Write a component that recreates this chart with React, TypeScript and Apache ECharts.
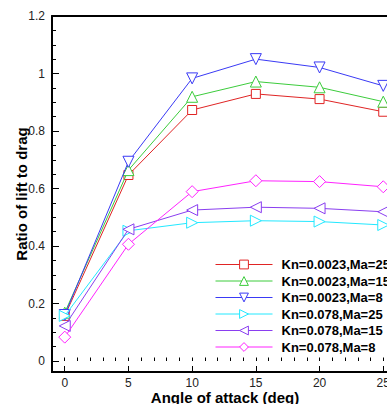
import React, { useEffect, useRef } from 'react';
import * as echarts from 'echarts';

const angles = [0, 5, 10, 15, 20, 25];
const xMajorTicks = [0, 5, 10, 15, 20, 25];
const seriesNames = [
  'Kn=0.0023,Ma=25',
  'Kn=0.0023,Ma=15',
  'Kn=0.0023,Ma=8',
  'Kn=0.078,Ma=25',
  'Kn=0.078,Ma=15',
  'Kn=0.078,Ma=8',
];
const kn0023Ma25 = [0.157, 0.647, 0.873, 0.929, 0.911, 0.867];
const kn0023Ma15 = [0.168, 0.664, 0.919, 0.972, 0.952, 0.902];
const kn0023Ma8 = [0.16, 0.693, 0.983, 1.05, 1.021, 0.957];
const kn078Ma25 = [0.157, 0.453, 0.481, 0.488, 0.485, 0.473];
const kn078Ma15 = [0.122, 0.458, 0.525, 0.535, 0.531, 0.519];
const kn078Ma8 = [0.083, 0.406, 0.589, 0.627, 0.624, 0.606];
const allValues = [kn0023Ma25, kn0023Ma15, kn0023Ma8, kn078Ma25, kn078Ma15, kn078Ma8];

const colors = ['#e02424', '#3ccc3c', '#3a3af5', '#22e8ff', '#8a3ef0', '#ff22ff'];
const symbols = ['rect', 'triangle', 'triangle', 'triangle', 'triangle', 'diamond'];
const rotations = [0, 0, 180, -90, 90, 0];
const sizes = [9, 11, 11, 11, 11, 12];

const FONT = '"Liberation Sans", Arial, sans-serif';

export default function App() {
  const ref = useRef<HTMLDivElement>(null);
  useEffect(() => {
    const chart = echarts.init(ref.current!, null, { renderer: 'svg' });
    const series = seriesNames.map((name, i) => ({
      name,
      type: 'line',
      xAxisIndex: 0,
      yAxisIndex: 0,
      data: angles.map((a, j) => [a, allValues[i][j]]),
      symbol: symbols[i],
      symbolRotate: rotations[i],
      symbolSize: sizes[i],
      showAllSymbol: true,
      lineStyle: { color: colors[i], width: 1 },
      itemStyle: { color: '#ffffff', borderColor: colors[i], borderWidth: 1 },
      emphasis: { disabled: true },
      z: 2 + i,
    }));
    chart.setOption({
      animation: false,
      backgroundColor: '#ffffff',
      textStyle: { fontFamily: FONT },
      grid: { left: 52, right: 24, top: 16, bottom: 43, containLabel: false },
      xAxis: [
        {
          type: 'value',
          position: 'bottom',
          min: -1,
          max: 26,
          offset: 11,
          axisLine: { show: true, onZero: false, lineStyle: { color: '#000', width: 2 } },
          axisTick: { show: true, inside: true, length: 6, customValues: xMajorTicks, lineStyle: { color: '#000', width: 1 } },
          axisLabel: { show: true, customValues: xMajorTicks, margin: 5, color: '#222', fontSize: 12, fontFamily: FONT },
          splitLine: { show: false },
        },
        {
          type: 'value',
          position: 'bottom',
          min: -1,
          max: 26,
          interval: 1,
          offset: 11,
          axisLine: { show: false },
          axisTick: { show: true, inside: true, length: 3.5, lineStyle: { color: '#000', width: 1 } },
          axisLabel: { show: false },
          splitLine: { show: false },
        },
        {
          type: 'value',
          position: 'top',
          min: -1,
          max: 26,
          axisLine: { show: true, onZero: false, lineStyle: { color: '#000', width: 2 } },
          axisTick: { show: false },
          axisLabel: { show: false },
          splitLine: { show: false },
        },
      ],
      yAxis: [
        {
          type: 'value',
          position: 'left',
          min: 0,
          max: 1.2,
          interval: 0.2,
          axisLine: { show: true, onZero: false, lineStyle: { color: '#000', width: 2 } },
          axisTick: { show: true, inside: true, length: 7, lineStyle: { color: '#000', width: 1 } },
          minorTick: { show: true, splitNumber: 4, length: 4, lineStyle: { color: '#000', width: 1 } },
          axisLabel: { show: true, margin: 7, color: '#222', fontSize: 12, fontFamily: FONT },
          splitLine: { show: false },
          minorSplitLine: { show: false },
        },
      ],
      legend: {
        orient: 'vertical',
        left: 215,
        top: 258,
        itemWidth: 57,
        itemHeight: 11,
        itemGap: 3.5,
        padding: 0,
        selectedMode: false,
        itemStyle: { borderWidth: 1 },
        lineStyle: { width: 1 },
        textStyle: { color: '#000', fontWeight: 'bold', fontSize: 13, fontFamily: FONT, padding: [0, 0, 0, 4] },
        data: seriesNames,
      },
      graphic: [
        {
          type: 'line',
          shape: { x1: 52, y1: 360, x2: 52, y2: 373 },
          style: { stroke: '#000', lineWidth: 2 },
          z: 10,
        },
        {
          type: 'text',
          x: 225,
          y: 397,
          style: {
            text: 'Angle of attack (deg)',
            fill: '#000',
            font: `bold 15px ${FONT}`,
            textAlign: 'center',
            textVerticalAlign: 'middle',
          },
        },
        {
          type: 'text',
          x: 21,
          y: 194,
          rotation: Math.PI / 2,
          style: {
            text: 'Ratio of lift to drag',
            fill: '#000',
            font: `bold 15px ${FONT}`,
            textAlign: 'center',
            textVerticalAlign: 'middle',
          },
        },
      ],
      series,
    });
    return () => chart.dispose();
  }, []);
  return (
    <div
      style={{
        position: 'absolute',
        left: 0,
        top: 0,
        width: 387,
        height: 404,
        overflow: 'hidden',
        background: '#fff',
      }}
    >
      <div ref={ref} style={{ width: 420, height: 404 }} />
    </div>
  );
}
